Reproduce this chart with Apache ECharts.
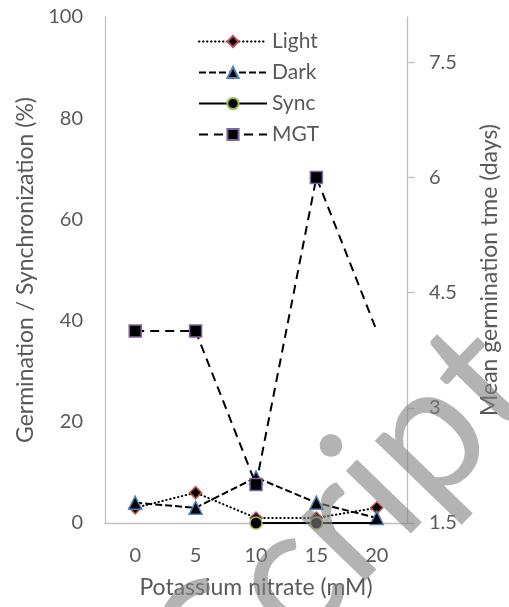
<!DOCTYPE html>
<html>
<head>
<meta charset="utf-8">
<script src="https://cdn.jsdelivr.net/npm/echarts@6/dist/echarts.min.js"></script>
<style>
  html, body { margin: 0; padding: 0; background: #fff; }
  #chart { width: 509px; height: 607px; }
</style>
</head>
<body>
<div id="chart"></div>
<script>
// Potassium nitrate concentrations (mM)
const categories = ['0', '5', '10', '15', '20'];
// Germination / synchronization (%), left axis
const light = [3, 6, 1, 1, 3];
const dark = [4, 3, 9, 4, 1];
const sync = [null, null, 0, 0, 0];
// Mean germination time (days), right axis
const mgt = [4, 4, 2, 6, 4];
// Tick labels
const leftTicks = [0, 20, 40, 60, 80, 100];
const rightTicks = [1.5, 3, 4.5, 6, 7.5];

const FONT = 'Lato';
const TEXT = '#595959';
const AXIS = '#bfbfbf';

// last point of a series drawn without its marker
function noLastMarker(arr) {
  return arr.map((v, i) => (i === arr.length - 1 ? { value: v, symbol: 'none' } : v));
}

const chart = echarts.init(document.getElementById('chart'), null, { renderer: 'canvas' });

chart.setOption({
  animation: false,
  backgroundColor: '#ffffff',
  textStyle: { fontFamily: FONT },
  grid: { left: 105, right: 94, top: 17, bottom: 84 },
  legend: {
    orient: 'vertical',
    left: 193,
    top: 26,
    itemWidth: 68,
    itemHeight: 14,
    itemGap: 10,
    textStyle: { fontFamily: FONT, fontSize: 21, color: TEXT },
    data: ['Light', 'Dark', 'Sync', 'MGT']
  },
  xAxis: {
    type: 'category',
    data: categories,
    boundaryGap: true,
    axisLine: { lineStyle: { color: AXIS, width: 1.3 } },
    axisTick: { show: false },
    axisLabel: { fontFamily: FONT, fontSize: 20, color: TEXT, margin: 23 },
    name: 'Potassium nitrate (mM)',
    nameLocation: 'middle',
    nameGap: 53,
    nameTextStyle: { fontFamily: FONT, fontSize: 23, color: TEXT }
  },
  yAxis: [
    {
      type: 'value',
      min: leftTicks[0],
      max: leftTicks[leftTicks.length - 1],
      interval: 20,
      splitLine: { show: false },
      axisLine: { show: true, lineStyle: { color: AXIS, width: 1.3 } },
      axisTick: { show: false },
      axisLabel: { fontFamily: FONT, fontSize: 20, color: TEXT, margin: 22 },
      name: 'Germination / Synchronization (%)',
      nameLocation: 'middle',
      nameGap: 66,
      nameTextStyle: { fontFamily: FONT, fontSize: 23, color: TEXT }
    },
    {
      type: 'value',
      position: 'right',
      min: rightTicks[0],
      max: 8.09,
      interval: 1.5,
      splitLine: { show: false },
      axisLine: { show: true, lineStyle: { color: AXIS, width: 1.3 } },
      axisTick: { show: true, length: 8, inside: false, lineStyle: { color: AXIS, width: 1.3 }, customValues: rightTicks },
      axisLabel: { fontFamily: FONT, fontSize: 20, color: TEXT, margin: 22, customValues: rightTicks },
      name: 'Mean germination tme (days)',
      nameLocation: 'middle',
      nameGap: 71,
      nameTextStyle: { fontFamily: FONT, fontSize: 23, color: TEXT }
    }
  ],
  series: [
    {
      name: 'Light',
      type: 'line',
      yAxisIndex: 0,
      data: light,
      symbol: 'diamond',
      symbolSize: 12,
      itemStyle: { color: '#000', borderColor: '#c0504d', borderWidth: 1.5 },
      lineStyle: { color: '#000', width: 2, type: [0.5, 3.5], cap: 'round' },
      z: 2
    },
    {
      name: 'Dark',
      type: 'line',
      yAxisIndex: 0,
      data: dark,
      symbol: 'triangle',
      symbolSize: 13,
      itemStyle: { color: '#000', borderColor: '#4f81bd', borderWidth: 1.5 },
      lineStyle: { color: '#000', width: 2, type: [7, 3] },
      z: 3
    },
    {
      name: 'Sync',
      type: 'line',
      yAxisIndex: 0,
      data: noLastMarker(sync),
      symbol: 'circle',
      symbolSize: 12,
      itemStyle: { color: '#000', borderColor: '#9bbb59', borderWidth: 1.5 },
      lineStyle: { color: '#000', width: 2, type: 'solid' },
      z: 4
    },
    {
      name: 'MGT',
      type: 'line',
      yAxisIndex: 1,
      data: noLastMarker(mgt),
      symbol: 'rect',
      symbolSize: 12,
      itemStyle: { color: '#000', borderColor: '#8064a2', borderWidth: 1.5 },
      lineStyle: { color: '#000', width: 2, type: [9, 6] },
      z: 5
    }
  ],
  graphic: [
    {
      type: 'text',
      x: 346,
      y: 518,
      rotation: 46 * Math.PI / 180,
      z: 100,
      silent: true,
      style: {
        text: 'Script',
        font: '178px Lato',
        fill: 'rgba(128,128,128,0.6)',
        align: 'center',
        verticalAlign: 'middle'
      }
    }
  ]
});
</script>
</body>
</html>
